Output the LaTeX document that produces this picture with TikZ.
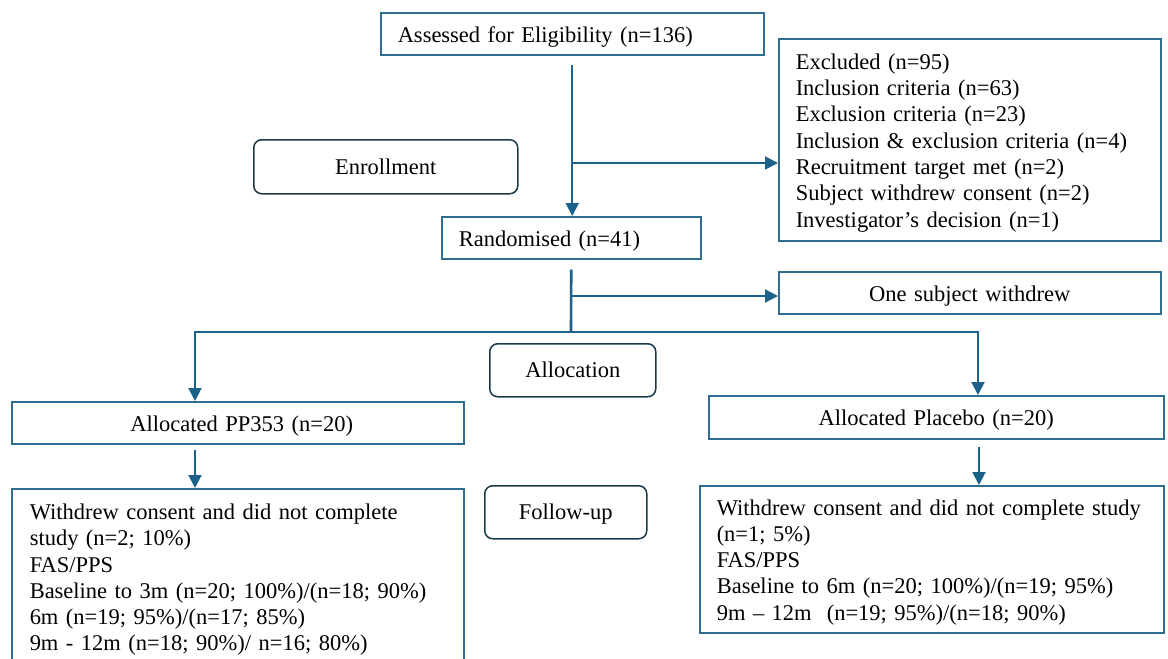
\documentclass[tikz,border=0pt]{standalone}
\usepackage{fontspec}
\setmainfont{Liberation Serif}
\usetikzlibrary{arrows.meta,calc}
\definecolor{boxblue}{HTML}{2F6E91}
\definecolor{arrblue}{HTML}{1C6189}
\definecolor{rbox}{HTML}{1B3A4B}
\begin{document}
\begin{tikzpicture}[x=1pt,y=-1pt,
  every node/.style={font=\fontsize{22.5}{26.3}\selectfont},
  box/.style={draw=boxblue, line width=1.5pt, fill=white, anchor=north west, inner xsep=17pt, inner ysep=0pt},
  one/.style={text height=21.6pt, text depth=4.8pt},
  multi/.style={execute at begin node={\rule{0pt}{21.6pt}}},
  rbox/.style={draw=rbox, line width=1.5pt, rounded corners=8pt, anchor=north west, inner sep=0pt, align=center},
  arr/.style={draw=arrblue, line width=2pt, -{Triangle[length=13pt,width=13pt]}},
  ln/.style={draw=arrblue, line width=2pt}]
\clip (0,0) rectangle (1168,659);
\fill[white] (0,0) rectangle (1168,659);
% boxes
\node[box, one, minimum width=383pt, minimum height=42pt, text width=349pt, align=left] (assess) at (380,12) {Assessed for Eligibility (n=136)};
\node[box, multi, minimum width=382pt, minimum height=202pt, text width=348pt, align=left] (excl) at (778,38) {Excluded (n=95)\\Inclusion criteria (n=63)\\Exclusion criteria (n=23)\\Inclusion \& exclusion criteria (n=4)\\Recruitment target met (n=2)\\Subject withdrew consent (n=2)\\Investigator’s decision (n=1)};
\node[rbox, minimum width=264pt, minimum height=54pt] (enrol) at (253,139) {Enrollment};
\node[box, one, minimum width=259pt, minimum height=42pt, text width=225pt, align=left] (rand) at (441,216) {Randomised (n=41)};
\node[box, one, minimum width=382pt, minimum height=42pt, text width=348pt, align=center] (withd) at (778,271) {One subject withdrew};
\node[rbox, minimum width=166pt, minimum height=53pt] (alloc) at (489,343) {Allocation};
\node[box, one, minimum width=452pt, minimum height=42pt, text width=418pt, align=center] (pp) at (11,401) {\hspace*{8pt}Allocated PP353 (n=20)};
\node[box, one, minimum width=455pt, minimum height=43pt, text width=421pt, align=center] (plac) at (708,395) {Allocated Placebo (n=20)};
\node[rbox, text height=17pt, text depth=2pt, minimum width=162pt, minimum height=53pt] (follow) at (484,485) {Follow-up};
\node[box, multi, minimum width=452pt, minimum height=176pt, text width=416pt, inner xsep=18pt, align=left] (ppf) at (11,488) {Withdrew consent and did not complete\\study (n=2; 10\%)\\FAS/PPS\\Baseline to 3m (n=20; 100\%)/(n=18; 90\%)\\6m (n=19; 95\%)/(n=17; 85\%)\\9m - 12m (n=18; 90\%)/ n=16; 80\%)};
\node[box, multi, minimum width=464pt, minimum height=147pt, text width=430pt, align=left] (plf) at (699,485) {Withdrew consent and did not complete study\\(n=1; 5\%)\\FAS/PPS\\Baseline to 6m (n=20; 100\%)/(n=19; 95\%)\\9m -- 12m~ (n=19; 95\%)/(n=18; 90\%)};
% connectors
\coordinate (a0) at ($(assess.south)+(0,9)$);
\draw[arr] (a0) -- (a0 |- rand.north);
\coordinate (b1) at (571,163);
\draw[arr] (b1) -- (b1 -| excl.west);
\coordinate (r0) at ($(rand.south)+(0,10)$);
\coordinate (r1) at (571,332);
\draw[ln, line width=2.6pt] (r0) -- (r1);
\coordinate (b2) at (571,296);
\draw[arr] (b2) -- (b2 -| withd.west);
\coordinate (lL) at (195,332);
\coordinate (lR) at (978,332);
\draw[ln, line cap=rect] (lL) -- (lR);
\draw[arr] (lL) -- (lL |- pp.north);
\draw[arr] (lR) -- (lR |- plac.north);
\coordinate (p0) at (195,450);
\draw[arr] (p0) -- (p0 |- ppf.north);
\coordinate (q0) at (979,447);
\draw[arr] (q0) -- (q0 |- plf.north);
\end{tikzpicture}
\end{document}
